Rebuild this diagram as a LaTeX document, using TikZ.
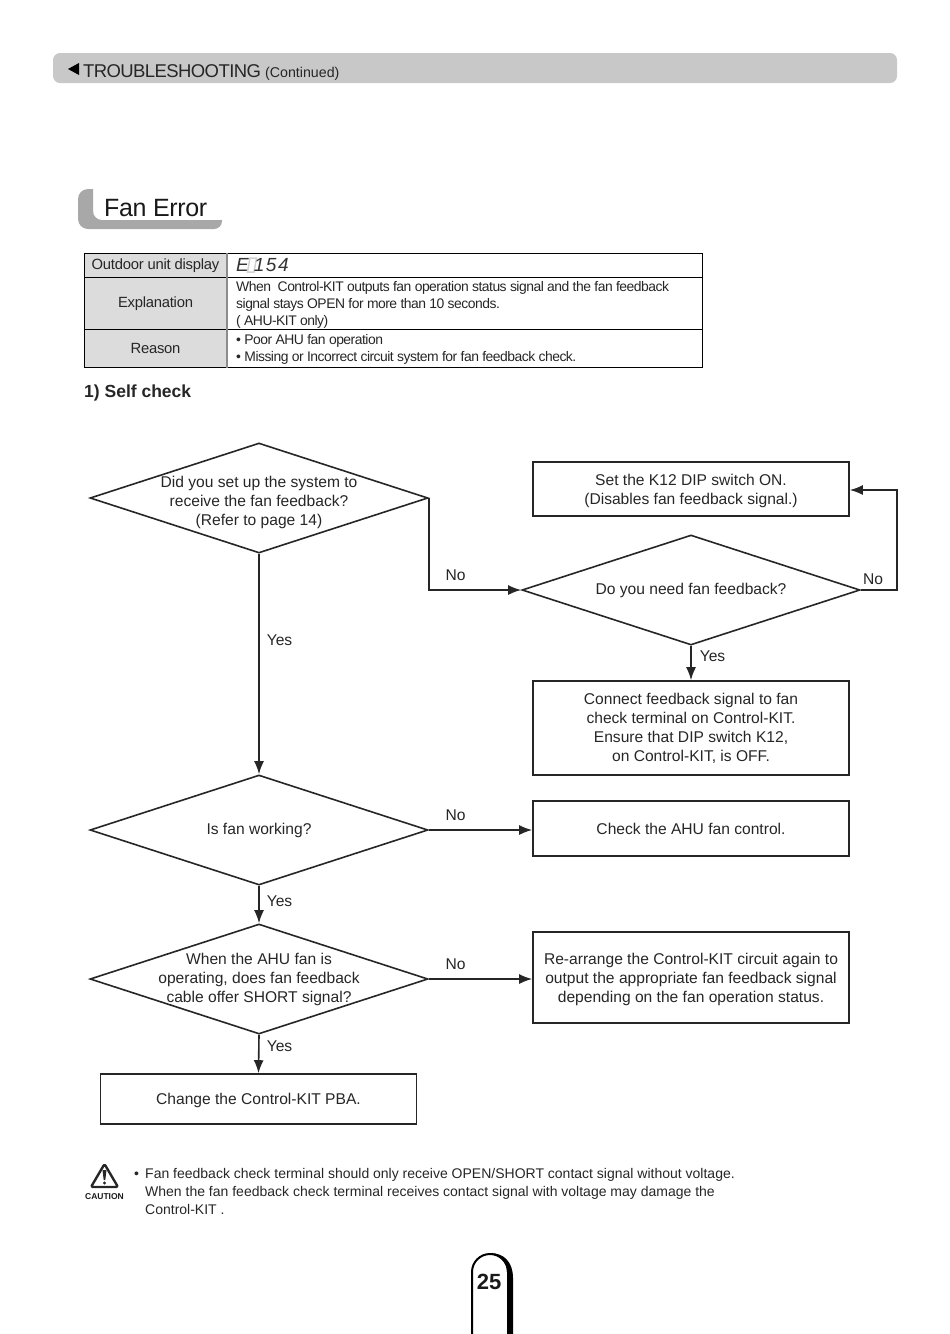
\documentclass[tikz,border=0pt]{standalone}
\usepackage{fontspec}
\setmainfont{Liberation Sans}
\usetikzlibrary{shapes.geometric,arrows.meta}
\definecolor{barcolor}{HTML}{C8C8C8}
\definecolor{tabcolor}{HTML}{A8A8A8}
\definecolor{cellcolor}{HTML}{DCDCDC}
\tikzset{
    flowline/.style={draw=black!85, line width=1.6pt},
    flowarrow/.style={flowline, -{Latex[length=13pt,width=10pt]}},
    flowbox/.style={flowline, rectangle, minimum width=316pt, inner sep=0pt},
    flowdiamond/.style={flowline, diamond, aspect=3.07, minimum width=338pt, minimum height=110pt, inner sep=0pt},
    flowtext/.style={align=center, inner sep=0pt, text=black!85, font=\fontsize{15.6}{19}\selectfont},
    flowlabel/.style={inner sep=0pt, text=black!85, font=\fontsize{15.6}{19}\selectfont},
    headcell/.style={draw=black, line width=1pt, fill=cellcolor, anchor=north west, minimum width=142pt, inner sep=0pt, text=black!85, font=\fontsize{14.8}{17}\selectfont\addfontfeatures{LetterSpace=-1.6}},
    bodycell/.style={draw=black, line width=1pt, anchor=north west, minimum width=476pt, inner sep=0pt},
    celltext/.style={anchor=west, align=left, inner sep=0pt, text=black!85, font=\fontsize{13.9}{17}\selectfont\addfontfeatures{LetterSpace=-3.6}}
}
\begin{document}
\begin{tikzpicture}[x=1pt, y=-1pt]
    \useasboundingbox (0,0) rectangle (950,1334);

    \fill[barcolor, rounded corners=7pt] (53,53) rectangle (897,83);
    \fill[black] (79,63) -- (79,75) -- (68,69) -- cycle;
    \node[anchor=base west, inner sep=0pt, text=black!85, font=\fontsize{18.5}{22}\selectfont\addfontfeatures{LetterSpace=-3.2}] (bartitle) at (83,77) {TROUBLESHOOTING};
    \node[anchor=base west, inner sep=0pt, text=black!85, font=\fontsize{14.2}{17}\selectfont] (barnote) at (265,77) {(Continued)};

    \fill[tabcolor] (93,189) [rounded corners=10pt] -- (78,189) -- (78,229) [rounded corners=8pt] -- (222,229) [sharp corners] -- (222,220) [rounded corners=9pt] -- (93,220) [sharp corners] -- cycle;
    \node[anchor=base west, inner sep=0pt, text=black!90, font=\fontsize{25}{30}\selectfont\addfontfeatures{LetterSpace=-1.5}] (pagetitle) at (104,216) {Fan Error};

    \node[headcell, minimum height=24pt] (rowa) at (84,253) {\raisebox{-1pt}{Outdoor unit display}};
    \node[bodycell, minimum height=24pt] (cella) at (226,253) {};
    \node[headcell, minimum height=52pt] (rowb) at (84,277) {\raisebox{-1pt}{Explanation}};
    \node[bodycell, minimum height=52pt] (cellb) at (226,277) {};
    \node[headcell, minimum height=38pt] (rowc) at (84,329) {Reason};
    \node[bodycell, minimum height=38pt] (cellc) at (226,329) {};
    \draw[black!45, line width=2pt] (rowa.north east) -- (rowc.south east);
    \draw[black!18, line width=1.5pt] (250,258) -- (256.5,258) -- (254,272) -- (247.5,272) -- cycle;
    \node[anchor=west, inner sep=0pt, text=black!80, font=\fontsize{19}{22}\selectfont\itshape\addfontfeatures{LetterSpace=8}] (codetext) at (236,265) {E\hspace{5pt}154};
    \node[celltext] (cellbtext) at (236,304.5) {When\ \ Control-KIT outputs fan operation status signal and the fan feedback\\signal stays OPEN for more than 10 seconds.\\( AHU-KIT only)};
    \node[celltext] (cellctext) at (236,349.5) {• Poor AHU fan operation\\• Missing or Incorrect circuit system for fan feedback check.};

    \node[anchor=base west, inner sep=0pt, text=black!85, font=\fontsize{17.5}{20}\selectfont\bfseries] (selfcheck) at (84,397) {1) Self check};

    \node[flowdiamond] (fbset) at (259,498) {};
    \node[flowdiamond] (fbneed) at (691,590) {};
    \node[flowdiamond] (fanwork) at (259,830) {};
    \node[flowdiamond] (fbshort) at (259,979) {};
    \node[flowtext] (fbsettext) at (259,502) {Did you set up the system to\\receive the fan feedback?\\(Refer to page 14)};
    \node[flowtext] (fbneedtext) at (fbneed) {Do you need fan feedback?};
    \node[flowtext] (fanworktext) at (fanwork) {Is fan working?};
    \node[flowtext] (fbshorttext) at (fbshort) {When the AHU fan is\\operating, does fan feedback\\cable offer SHORT signal?};

    \node[flowbox, minimum height=54pt] (dipon) at (691,489) {};
    \node[flowbox, minimum height=94pt] (connect) at (691,728) {};
    \node[flowbox, minimum height=55pt] (ahuctl) at (691,828.5) {};
    \node[flowbox, minimum height=91pt] (rearrange) at (691,977.5) {};
    \node[flowbox, minimum height=50pt] (changepba) at (258.5,1099) {};
    \node[flowtext] (dipontext) at (691,491) {Set the K12 DIP switch ON.\\(Disables fan feedback signal.)};
    \node[flowtext] (connecttext) at (connect) {Connect feedback signal to fan\\check terminal on Control-KIT.\\Ensure that DIP switch K12,\\on Control-KIT, is OFF.};
    \node[flowtext] (ahuctltext) at (ahuctl) {Check the AHU fan control.};
    \node[flowtext] (rearrangetext) at (691,979.5) {Re-arrange the Control-KIT circuit again to\\output the appropriate fan feedback signal\\depending on the fan operation status.};
    \node[flowtext] (changepbatext) at (258.5,1100) {Change the Control-KIT PBA.};

    \draw[flowarrow] (fbset.south) -- (fanwork.north);
    \draw[flowarrow] (fbset.east) -- (fbset.east |- fbneed.west) -- (fbneed.west);
    \coordinate (loopcorner) at (897,590);
    \draw[flowarrow] (fbneed.east) -- (loopcorner) -- (loopcorner |- 0,490) -- (dipon.east |- 0,490);
    \draw[flowarrow] (fbneed.south) -- (connect.north);
    \draw[flowarrow] (fanwork.east) -- (ahuctl.west |- fanwork.east);
    \draw[flowarrow] (fanwork.south) -- (fbshort.north);
    \draw[flowarrow] (fbshort.east) -- (rearrange.west |- fbshort.east);
    \draw[flowarrow] (fbshort.south) -- (changepba.north);

    \node[flowlabel] (yesa) at (279.5,640.5) {Yes};
    \node[flowlabel] (noa) at (455.5,575) {No};
    \node[flowlabel] (nob) at (873,579) {No};
    \node[flowlabel] (yesb) at (712.5,656) {Yes};
    \node[flowlabel] (noc) at (455.5,815) {No};
    \node[flowlabel] (yesc) at (279.5,901) {Yes};
    \node[flowlabel] (nod) at (455.5,964) {No};
    \node[flowlabel] (yesd) at (279.5,1046) {Yes};

    \draw[black!85, line width=2.4pt, line join=round, rounded corners=1.5pt] (104.5,1164) -- (118,1187) -- (91,1187) -- cycle;
    \fill[black!85] (102.5,1170) -- (106.5,1170) -- (105.3,1180) -- (103.7,1180) -- cycle;
    \fill[black!85] (104.5,1183) circle[radius=1.7];
    \node[inner sep=0pt, text=black!90, font=\fontsize{8.5}{11}\selectfont\bfseries] (cautionword) at (104.5,1197) {CAUTION};
    \node[inner sep=0pt, anchor=west, text=black!85, font=\fontsize{14}{18}\selectfont] (bulletmark) at (134,1175.5) {•};
    \node[anchor=north west, align=left, inner sep=0pt, text=black!85, font=\fontsize{14}{18}\selectfont] (cautionnote) at (145,1168.5) {Fan feedback check terminal should only receive OPEN/SHORT contact signal without voltage.\\When the fan feedback check terminal receives contact signal with voltage may damage the\\Control-KIT .};

    \draw[black, line width=2pt] (472,1334) -- (472,1272) arc[start angle=180, end angle=360, radius=18] -- (508,1334);
    \fill[black] (490,1253) .. controls (504,1253) and (513,1262) .. (513,1278) -- (513,1334) -- (507,1334) -- (507,1272) .. controls (507,1262) and (499,1254) .. (490,1254) -- cycle;
    \node[inner sep=0pt, text=black!90, font=\fontsize{22}{24}\selectfont\bfseries] (pagenum) at (489,1282) {25};
\end{tikzpicture}
\end{document}
